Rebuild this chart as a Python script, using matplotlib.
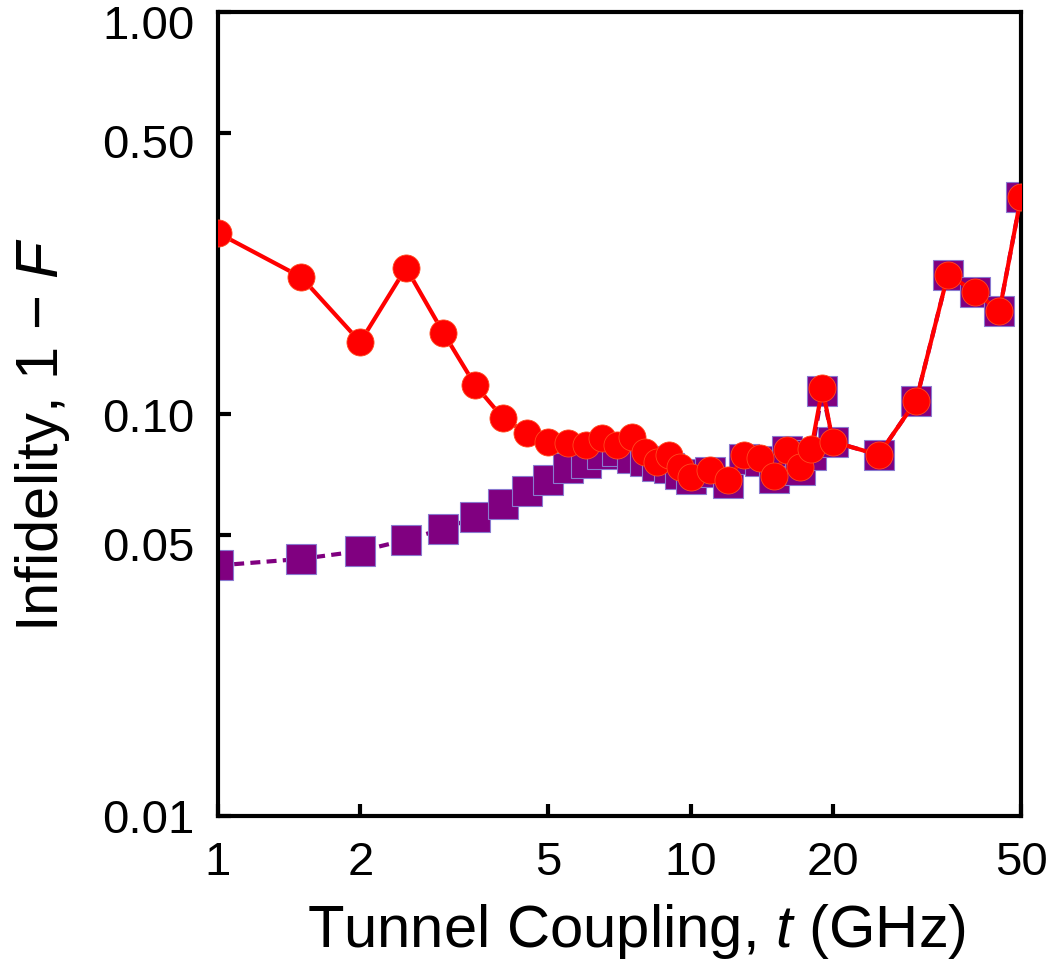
import numpy as np
import matplotlib
matplotlib.use('Agg')
import matplotlib.pyplot as plt
import matplotlib.transforms as mtransforms

plt.rcParams['font.family'] = ['Liberation Sans', 'DejaVu Sans']
plt.rcParams['mathtext.fontset'] = 'custom'
plt.rcParams['mathtext.rm'] = 'Liberation Sans'
plt.rcParams['mathtext.it'] = 'Liberation Sans:italic'

# tunnel coupling (GHz)
t_ghz = [1, 1.5, 2, 2.5, 3, 3.5, 4, 4.5, 5, 5.5, 6, 6.5, 7, 7.5, 8, 8.5, 9, 9.5,
         10, 11, 12, 13, 14, 15, 16, 17, 18, 19, 20, 25, 30, 35, 40, 45, 50]

# red circles (solid line)
infid_red = [0.282, 0.219, 0.151, 0.231, 0.159, 0.118, 0.098, 0.0895, 0.085, 0.0845,
             0.0838, 0.087, 0.0837, 0.0878, 0.0806, 0.0761, 0.0791, 0.0739,
             0.0698, 0.0726, 0.0685, 0.079, 0.0777, 0.070, 0.0813, 0.0739, 0.082,
             0.116, 0.0853, 0.0791, 0.108, 0.222, 0.2015, 0.18, 0.347]

# purple squares (dotted line)
infid_purple = [0.042, 0.0436, 0.0456, 0.0486, 0.0518, 0.0553, 0.0597, 0.0642, 0.0685,
                0.0732, 0.0756, 0.0797, 0.081, 0.0775, 0.0765, 0.0743, 0.0732, 0.071,
                0.0688, 0.0717, 0.0675, 0.0774, 0.0765, 0.0693, 0.0808, 0.0725, 0.0791,
                0.114, 0.0853, 0.0791, 0.108, 0.222, 0.2015, 0.18, 0.347]

x_ticks = [1, 2, 5, 10, 20, 50]
y_ticks = [0.01, 0.05, 0.10, 0.50, 1.00]
# the y labels sit a little below their ticks in the original (pixels)
y_label_drop = [0, 9, 1, 8, 10]

fig = plt.figure(figsize=(10.5, 9.75), dpi=100)
ax = fig.add_axes([0.2076, 0.1631, 0.7648, 0.8246])

ax.plot(t_ghz, infid_purple, color='#800080', lw=3.0, ls=(0, (2.4, 1.5)),
        marker='s', ms=21, mec='#8a7ad0', mew=0.8, zorder=2)
ax.plot(t_ghz, infid_red, color='#ff0000', lw=3.0, ls='-',
        marker='o', ms=19.5, mec='#ff4a20', mew=0.6, zorder=3)

ax.set_xscale('log')
ax.set_yscale('log')
ax.set_xlim(1, 50)
ax.set_ylim(0.01, 1)

ax.xaxis.set_major_locator(matplotlib.ticker.FixedLocator(x_ticks))
ax.xaxis.set_minor_locator(matplotlib.ticker.NullLocator())
ax.xaxis.set_major_formatter(matplotlib.ticker.FixedFormatter([str(v) for v in x_ticks]))
ax.yaxis.set_major_locator(matplotlib.ticker.FixedLocator(y_ticks))
ax.yaxis.set_minor_locator(matplotlib.ticker.NullLocator())
ax.yaxis.set_major_formatter(matplotlib.ticker.FixedFormatter(['%.2f' % v for v in y_ticks]))

for sp in ax.spines.values():
    sp.set_linewidth(3)
ax.tick_params(direction='in', length=9, width=3, labelsize=34)
ax.tick_params(axis='x', pad=18)
ax.tick_params(axis='y', pad=17)

for tick, d in zip(ax.yaxis.get_major_ticks(), y_label_drop):
    off = mtransforms.ScaledTranslation(0, -d / 100.0, fig.dpi_scale_trans)
    tick.label1.set_transform(tick.label1.get_transform() + off)

ax.set_xlabel('Tunnel Coupling, $t$ (GHz)', fontsize=43)
ax.set_ylabel('Infidelity, 1 \u2212 $F$', fontsize=43)
ax.xaxis.set_label_coords(0.521, -0.107)
ax.yaxis.set_label_coords(-0.182, 0.474)

plt.savefig('out.png', dpi=100)
